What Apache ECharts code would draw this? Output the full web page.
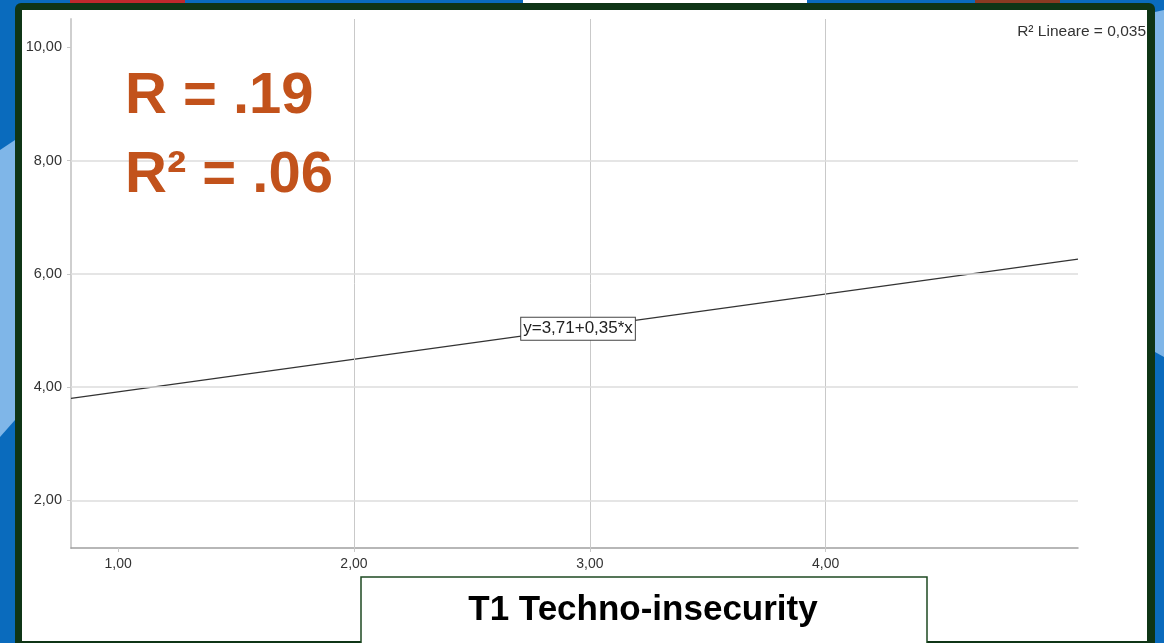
<!DOCTYPE html>
<html>
<head>
<meta charset="utf-8">
<script src="https://cdn.jsdelivr.net/npm/echarts@6/dist/echarts.min.js"></script>
<style>
  html, body { margin: 0; padding: 0; background: #0a6bbd; }
  #chart { width: 1164px; height: 643px; }
</style>
</head>
<body>
<div id="chart"></div>
<script>
// Axis ticks and grid lines
const xTickValues = [1, 2, 3, 4];
const yTickValues = [2, 4, 6, 8, 10];
const xGridValues = [2, 3, 4];
const yGridValues = [2, 4, 6, 8];

// Fitted regression line, drawn between the ends of the x range
const fitX = [0.8, 5.07];
const fitY = [3.8, 6.26];

// Texts
const equationText = 'y=3,71+0,35*x';
const fitNote = 'R\u00B2 Lineare = 0,035';
const statR = 'R = .19';
const statR2 = 'R\u00B2 = .06';
const xAxisTitle = 'T1 Techno-insecurity';

const fmt = v => v.toFixed(2).replace('.', ',');
const ORANGE = '#c2521b';
const FONT = '"Liberation Sans", Arial, sans-serif';

const chart = echarts.init(document.getElementById('chart'));

const option = {
  backgroundColor: 'transparent',
  animation: false,
  grid: { left: 71, right: 86, top: 19, bottom: 95 },
  xAxis: {
    type: 'value',
    min: 0.8,
    max: 5.07,
    axisLine: { show: true, onZero: false, lineStyle: { color: '#a0a0a0', width: 1.5 } },
    axisTick: { show: true, customValues: xTickValues, length: 4, lineStyle: { color: '#c8c8c8' } },
    axisLabel: {
      customValues: xTickValues,
      formatter: fmt,
      color: '#333', fontSize: 14, fontFamily: FONT, margin: 9
    },
    splitLine: { show: false }
  },
  yAxis: {
    type: 'value',
    min: 1.16,
    max: 10.5,
    axisLine: { show: true, onZero: false, lineStyle: { color: '#cfcfcf', width: 2 } },
    axisTick: { show: true, customValues: yTickValues, length: 4, lineStyle: { color: '#c8c8c8' } },
    axisLabel: {
      customValues: yTickValues,
      formatter: fmt,
      color: '#333', fontSize: 14.5, fontFamily: FONT, margin: 9
    },
    splitLine: { show: false }
  },
  series: [
    {
      // grid lines
      type: 'line',
      data: [],
      silent: true,
      z: 1,
      markLine: {
        silent: true,
        symbol: 'none',
        label: { show: false },
        data: [
          ...xGridValues.map(v => ({ xAxis: v, lineStyle: { color: '#c9c9c9', width: 1, type: 'solid' } })),
          ...yGridValues.map(v => ({ yAxis: v, lineStyle: { color: '#dcdcdc', width: 1.5, type: 'solid' } }))
        ]
      }
    },
    {
      type: 'line',
      data: fitX.map((x, i) => [x, fitY[i]]),
      showSymbol: false,
      lineStyle: { color: '#333', width: 1.3 },
      z: 3,
      markPoint: {
        symbol: 'rect',
        symbolSize: 0,
        data: [{ coord: [2.95, 5.03] }],
        label: {
          show: true,
          position: 'inside',
          formatter: equationText,
          color: '#222',
          fontSize: 17,
          fontFamily: FONT,
          backgroundColor: '#fff',
          borderColor: '#444',
          borderWidth: 1,
          padding: [2, 2, 1, 2],
          lineHeight: 19
        }
      }
    }
  ],
  graphic: [
    // page backdrop
    { type: 'rect', z: -100, shape: { x: 0, y: 0, width: 1164, height: 643 }, style: { fill: '#0a6bbd' } },
    { type: 'polygon', z: -99, shape: { points: [[0, 150], [15, 140], [15, 420], [0, 437]] }, style: { fill: '#7fb6e8' } },
    { type: 'polygon', z: -99, shape: { points: [[1155, 12], [1164, 10], [1164, 357], [1155, 352]] }, style: { fill: '#7fb6e8' } },
    { type: 'rect', z: -99, shape: { x: 70, y: 0, width: 115, height: 4 }, style: { fill: '#c0282d' } },
    { type: 'rect', z: -99, shape: { x: 523, y: 0, width: 284, height: 4 }, style: { fill: '#ffffff' } },
    { type: 'rect', z: -99, shape: { x: 975, y: 0, width: 85, height: 4 }, style: { fill: '#8a3a22' } },
    // frame and panel
    { type: 'rect', z: -98, shape: { x: 15, y: 3, width: 1140, height: 660, r: 6 }, style: { fill: '#0f3516' } },
    { type: 'rect', z: -97, shape: { x: 22, y: 10, width: 1125, height: 631 }, style: { fill: '#ffffff' } },
    // statistics
    {
      type: 'text', z: 100, left: 125, top: 97 - 29,
      style: { text: statR, font: 'bold 58px ' + FONT, fill: ORANGE }
    },
    {
      type: 'text', z: 100, left: 125, top: 176 - 29,
      style: { text: statR2, font: 'bold 58px ' + FONT, fill: ORANGE }
    },
    // fit note, top right
    {
      type: 'text', z: 100, right: 18, top: 24,
      style: { text: fitNote, font: '15.5px ' + FONT, fill: '#333' }
    },
    // x axis title box
    {
      type: 'rect', z: 100, shape: { x: 361, y: 577, width: 566, height: 70 },
      style: { fill: '#fff', stroke: '#1e4a22', lineWidth: 1.5 }
    },
    {
      type: 'text', z: 101, x: 643, y: 610,
      style: { text: xAxisTitle, font: 'bold 35px ' + FONT, fill: '#000', align: 'center', verticalAlign: 'middle' }
    }
  ]
};

chart.setOption(option);
</script>
</body>
</html>
